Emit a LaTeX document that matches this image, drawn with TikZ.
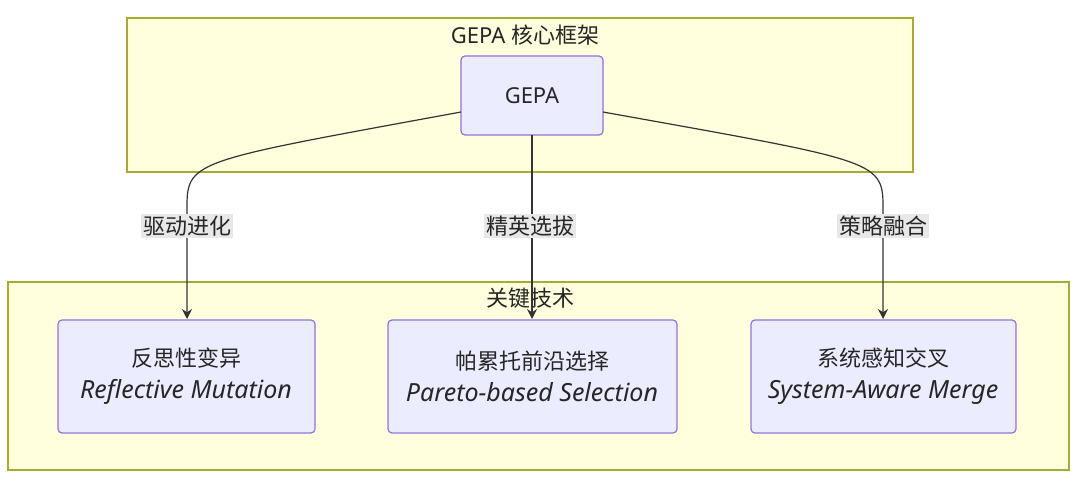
\documentclass[tikz,border=0pt]{standalone}
\usepackage{fontspec}
\setmainfont{Noto Sans}
\newfontfamily\cjk{Noto Sans CJK SC}
\usetikzlibrary{positioning,arrows.meta,backgrounds}
\definecolor{clfill}{HTML}{FFFFDE}
\definecolor{cldraw}{HTML}{AAAA33}
\definecolor{ndfill}{HTML}{ECECFF}
\definecolor{nddraw}{HTML}{9370DB}
\definecolor{lbfill}{HTML}{E8E8E8}
\newcommand{\enline}[1]{{\fontsize{12.5}{15}\selectfont\textit{#1}}}
\tikzset{
  cluster/.style={draw=cldraw,fill=clfill,line width=0.6pt},
  box/.style={draw=nddraw,fill=ndfill,line width=0.6pt,rounded corners=2pt},
  txt/.style={font=\fontsize{11}{14}\selectfont,text=black!85,align=center},
  elabel/.style={txt,fill=lbfill,inner sep=1pt},
  link/.style={draw=black!80,line width=0.6pt,-{Stealth[length=5pt,width=5pt]}}
}
\begin{document}
\begin{tikzpicture}[x=0.5pt,y=-0.5pt]
            \useasboundingbox (0,0) rectangle (1080,485);
            % clusters
            \draw[cluster] (127,18) rectangle (913,172);
            \node[txt] (topt) at (525,35) {GEPA {\cjk 核心框架}};
            \draw[cluster] (8,282) rectangle (1069,470);
            \node[txt] (bott) at (530,298) {{\cjk 关键技术}};

            % nodes
            \draw[box] (461,56) rectangle (603,135);
            \node[txt] (gepa) at (532,96) {GEPA};
            \draw[box] (58,320) rectangle (315,433);
            \node[txt] (refl) at (186,376) {{\cjk 反思性变异}\\[2pt]\enline{Reflective Mutation}};
            \draw[box] (388,320) rectangle (677,433);
            \node[txt] (pare) at (532,376) {{\cjk 帕累托前沿选择}\\[2pt]\enline{Pareto-based Selection}};
            \draw[box] (751,320) rectangle (1016,433);
            \node[txt] (syst) at (883,376) {{\cjk 系统感知交叉}\\[2pt]\enline{System-Aware Merge}};

            % connectors
            \coordinate (gl) at (461,112);
            \coordinate (gr) at (603,112);
            \coordinate (gb) at (532,135);
            \coordinate (tl) at (187,319);
            \coordinate (tm) at (532,319);
            \coordinate (tr) at (883,319);
            \draw[link] (gl) .. controls (200,160) and (187,160) .. (187,205) -- (tl);
            \draw[link] (gb) -- (tm);
            \draw[link] (gr) .. controls (870,160) and (883,160) .. (883,205) -- (tr);
            \node[elabel] (l1) at (187,226) {\cjk 驱动进化};
            \node[elabel] (l2) at (530,226) {\cjk 精英选拔};
            \node[elabel] (l3) at (883,226) {\cjk 策略融合};
\end{tikzpicture}
\end{document}
